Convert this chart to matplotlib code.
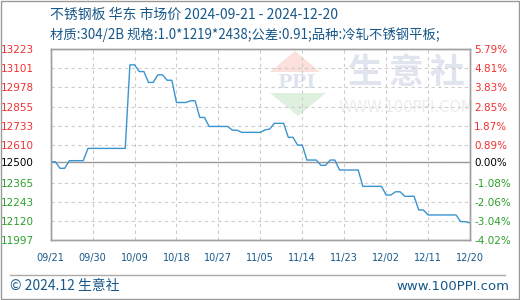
import matplotlib
matplotlib.use('Agg')
import matplotlib.pyplot as plt
from matplotlib.patches import Polygon, Rectangle
from matplotlib.lines import Line2D
import pandas as pd

plt.rcParams['font.family'] = ['Noto Sans CJK SC', 'DejaVu Sans']

# daily price, 2024-09-21 .. 2024-12-20 (yuan/ton)
start_date = '2024-09-21'
prices = [12500, 12500, 12458, 12458, 12507, 12507, 12507, 12507,
          12586, 12586, 12586, 12586, 12586, 12586, 12586, 12586, 12586,
          13123, 13123, 13080, 13080, 13010, 13010, 13059, 13059, 13024, 13024,
          12881, 12881, 12881, 12892, 12892, 12785, 12785,
          12727, 12727, 12727, 12727, 12727, 12703, 12703,
          12689, 12689, 12689, 12689, 12689, 12705, 12710,
          12747, 12747, 12747, 12657, 12657, 12607, 12607,
          12511, 12511, 12511, 12477, 12477, 12511, 12511,
          12447, 12447, 12447, 12447, 12447,
          12342, 12342, 12342, 12342, 12342, 12286, 12286, 12307, 12307,
          12278, 12278, 12278, 12190, 12190,
          12158, 12158, 12158, 12158, 12158, 12158, 12158,
          12115, 12115, 12107]
base_price = 12500

y_ticks = [11997, 12120, 12243, 12365, 12500, 12610, 12733, 12855, 12978, 13101, 13223]
y_labels = ['11997', '12120', '12243', '12365', '12500', '12610', '12733', '12855', '12978', '13101', '13223']
pct_labels = ['-4.02%', '-3.04%', '-2.06%', '-1.08%', '0.00%', '0.89%', '1.87%', '2.85%', '3.83%', '4.81%', '5.79%']

title = '不锈钢板 华东 市场价 2024-09-21 - 2024-12-20'
subtitle = '材质:304/2B 规格:1.0*1219*2438;公差:0.91;品种:冷轧不锈钢平板;'

dates = pd.date_range(start_date, periods=len(prices), freq='D')

W, H = 520, 300
def fx(x): return x / W
def fy(y): return 1 - y / H

fig = plt.figure(figsize=(5.2, 3.0), dpi=100)
ax = fig.add_axes([fx(50.7), fy(240), fx(470) - fx(50.7), fy(49.3) - fy(240)])

RED = '#f03030'
GREEN = '#2aa02a'
BLUE_TXT = '#17588a'

# watermark
wm = dict(transform=fig.transFigure, zorder=0, clip_on=False)
ax.add_patch(Polygon([(fx(270), fy(72)), (fx(320), fy(72)), (fx(295), fy(51))],
                     closed=True, facecolor='#fbe0dc', edgecolor='none', **wm))
ax.add_patch(Polygon([(fx(270), fy(93)), (fx(326), fy(93)), (fx(298), fy(116))],
                     closed=True, facecolor='#dff0df', edgecolor='none', **wm))
ax.text(fx(296), fy(83), 'PPI', fontsize=14, fontweight='bold', family='DejaVu Serif',
        color='#dde3ef', ha='center', va='center', **wm)
for i, ch in enumerate('生意社'):
    ax.text(fx(365 + i * 41), fy(72), ch, fontsize=25, fontweight='bold',
            color='#e0e4ee', ha='center', va='center', **wm)
ax.text(fx(406), fy(107), 'WWW.100PPI.COM', fontsize=10.5, family='DejaVu Sans',
        color='#ececec', ha='center', va='center', **wm)

ax.plot(dates, prices, color='#3a94d0', lw=1.0, zorder=3)
ax.axhline(base_price, color='#999999', lw=1.0, zorder=2)

ax.set_xlim(dates[0], dates[-1])
ax.set_ylim(y_ticks[0], y_ticks[-1])
x_ticks = dates[::9]
ax.set_xticks(x_ticks)
ax.set_xticklabels([d.strftime('%m/%d') for d in x_ticks], family='DejaVu Sans',
                   fontsize=7, color=BLUE_TXT)
ax.set_yticks(y_ticks)
ax.set_yticklabels(y_labels, family='DejaVu Sans', fontsize=7.5)
ax.tick_params(length=0)
ax.tick_params(axis='x', pad=9)
ax.tick_params(axis='y', pad=12)
ax.grid(True, color='#cccccc', ls=(0, (3, 3)), lw=0.8, zorder=1)

ax2 = ax.twinx()
ax2.set_ylim(y_ticks[0], y_ticks[-1])
ax2.set_yticks(y_ticks)
ax2.set_yticklabels(pct_labels, family='DejaVu Sans', fontsize=7.5)
ax2.tick_params(length=0, pad=3)

def tick_color(v):
    if v > base_price:
        return RED
    if v < base_price:
        return GREEN
    return 'black'

for lab, v in zip(ax.get_yticklabels(), y_ticks):
    lab.set_color(tick_color(v))
for lab, v in zip(ax2.get_yticklabels(), y_ticks):
    lab.set_color(tick_color(v))

for a in (ax, ax2):
    for s in a.spines.values():
        s.set_color('#a0a0a0')
        s.set_linewidth(1.0)

fig.text(fx(50), fy(15), title, fontsize=10, color=BLUE_TXT, va='center', ha='left')
fig.text(fx(50), fy(35), subtitle, fontsize=9.6, color=BLUE_TXT, va='center', ha='left')

# footer
fig.add_artist(Line2D([fx(10), fx(505)], [fy(275), fy(275)], color='#aaaaaa', lw=1.0))
fig.text(fx(10), fy(286), '© 2024.12 生意社', fontsize=10, color=BLUE_TXT, va='center', ha='left')
fig.text(fx(509), fy(286), 'www.100PPI.com', fontsize=9.5, color=BLUE_TXT, va='center', ha='right',
         family='DejaVu Sans')
fig.add_artist(Rectangle((0.001, 0.002), 0.997, 0.995, transform=fig.transFigure,
                         fill=False, edgecolor='#999999', lw=1.0))

fig.savefig('out.png', dpi=100)
